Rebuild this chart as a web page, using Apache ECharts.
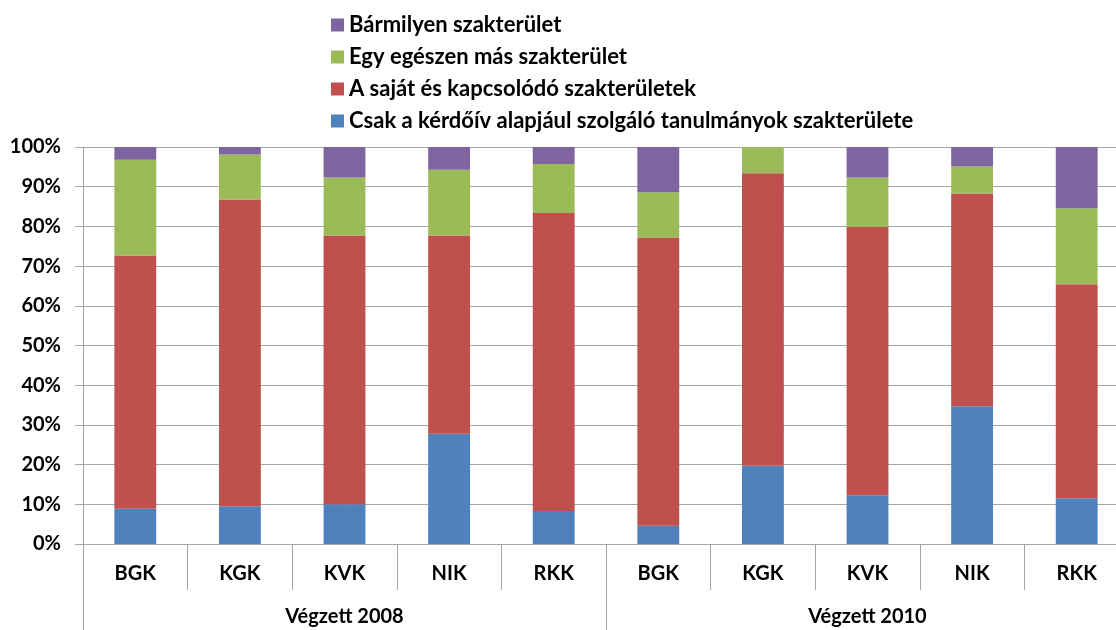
<!DOCTYPE html>
<html>
<head>
<meta charset="utf-8">
<script src="https://cdn.jsdelivr.net/npm/echarts@6/dist/echarts.min.js"></script>
<style>
  html, body { margin: 0; padding: 0; background: #fff; overflow: hidden; }
  /* the original picture is cut on the right, so the chart is a bit wider than the window */
  #main { width: 1132px; height: 630px; }
</style>
</head>
<body>
<div id="main"></div>
<script>
var faculties = ["BGK", "KGK", "KVK", "NIK", "RKK", "BGK", "KGK", "KVK", "NIK", "RKK"];
var groups = ["Végzett 2008", "Végzett 2010"];
var yTicks = [0, 10, 20, 30, 40, 50, 60, 70, 80, 90, 100];

// share of each answer, percent
var onlyOwn = [8.9, 9.5, 10.0, 27.8, 8.3, 4.6, 19.7, 12.3, 34.7, 11.5];
var ownAndRelated = [63.8, 77.3, 67.7, 49.9, 75.1, 72.6, 73.7, 67.6, 53.6, 53.9];
var otherField = [24.1, 11.3, 14.6, 16.6, 12.3, 11.4, 6.6, 12.4, 6.8, 19.2];
var anyField = [3.2, 1.9, 7.7, 5.7, 4.3, 11.4, 0, 7.7, 4.9, 15.4];

var names = [
  "Csak a kérdőív alapjául szolgáló tanulmányok szakterülete",
  "A saját és kapcsolódó szakterületek",
  "Egy egészen más szakterület",
  "Bármilyen szakterület"
];
var colors = ["#4F81BD", "#C0504D", "#9BBB59", "#8064A2"];
var values = [onlyOwn, ownAndRelated, otherField, anyField];

var font = "Lato, 'Open Sans', sans-serif";
var lineColor = "#a6a6a6";

var chart = echarts.init(document.getElementById("main"));

var series = names.map(function (n, i) {
  return {
    name: n,
    type: "bar",
    stack: "total",
    barWidth: "40%",
    xAxisIndex: 0,
    itemStyle: { color: colors[i] },
    data: values[i]
  };
});

chart.setOption({
  backgroundColor: "#ffffff",
  animation: false,
  legend: {
    orient: "vertical",
    left: 326,
    top: 9,
    itemWidth: 13,
    itemHeight: 13,
    itemGap: 10,
    icon: "rect",
    data: names.slice().reverse(),
    textStyle: { fontFamily: font, fontWeight: "bold", fontSize: 22, color: "#000", lineHeight: 20 }
  },
  grid: { left: 83, top: 147, width: 1046, bottom: 86 },
  xAxis: [
    {
      type: "category",
      data: faculties,
      axisLine: { show: true, lineStyle: { color: lineColor } },
      axisTick: { show: true, interval: 0, length: 46, lineStyle: { color: lineColor } },
      axisLabel: { interval: 0, margin: 20, fontFamily: font, fontWeight: "bold", fontSize: 20, color: "#000" }
    },
    {
      type: "category",
      position: "bottom",
      data: groups,
      axisLine: { show: false },
      axisTick: { show: true, interval: 0, length: 90, lineStyle: { color: lineColor } },
      axisLabel: { interval: 0, margin: 63, fontFamily: font, fontWeight: "bold", fontSize: 20, color: "#000" }
    }
  ],
  yAxis: {
    type: "value",
    min: yTicks[0],
    max: yTicks[yTicks.length - 1],
    interval: 10,
    axisLine: { show: true, lineStyle: { color: lineColor } },
    axisTick: { show: true, length: 8, lineStyle: { color: lineColor } },
    splitLine: { show: true, lineStyle: { color: lineColor } },
    axisLabel: { formatter: "{value}%", margin: 22, fontFamily: font, fontWeight: "bold", fontSize: 20, color: "#000" }
  },
  series: series
});
</script>
</body>
</html>
